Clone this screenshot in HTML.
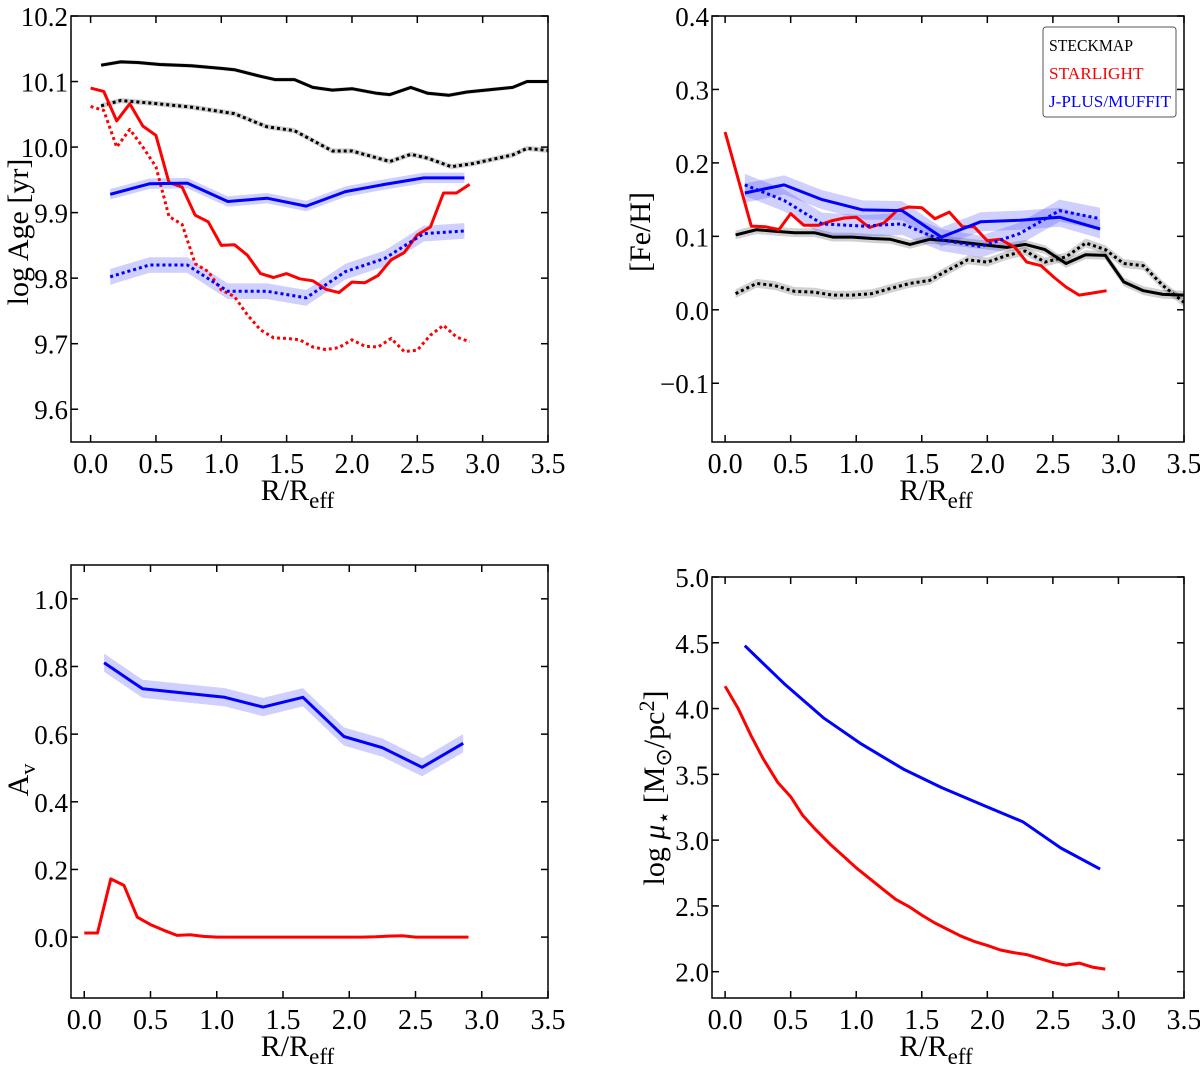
<!DOCTYPE html>
<html><head><meta charset="utf-8"><style>
html,body{margin:0;padding:0;background:#fff;}
svg, svg text{font-family:"Liberation Serif","Times New Roman",serif;}
</style></head><body>
<svg id="fig" width="1200" height="1068" viewBox="0 0 1200 1068" xmlns="http://www.w3.org/2000/svg" font-family="Liberation Serif, serif"></svg>
<script>
// ---- Panel A: log Age ----
const ageBlackX = [0.08,0.23,0.36,0.53,0.77,1.0,1.1,1.3,1.41,1.56,1.7,1.85,2.0,2.19,2.29,2.45,2.58,2.74,2.88,3.08,3.23,3.34,3.5];
const ageBlackSolid = [10.125,10.130,10.129,10.126,10.124,10.12,10.118,10.108,10.103,10.103,10.091,10.087,10.089,10.082,10.080,10.091,10.082,10.079,10.084,10.088,10.091,10.1,10.1];
const ageBlackDotX = [0.08,0.23,0.47,0.77,1.1,1.35,1.56,1.85,2.0,2.29,2.45,2.58,2.76,2.93,3.23,3.34,3.5];
const ageBlackDotted = [10.063,10.071,10.067,10.061,10.051,10.031,10.025,9.994,9.994,9.978,9.989,9.983,9.970,9.975,9.988,9.998,9.995];
const ageRedX = [0,0.1,0.2,0.3,0.4,0.5,0.6,0.7,0.8,0.9,1.0,1.1,1.2,1.3,1.4,1.5,1.6,1.7,1.8,1.9,2.0,2.1,2.2,2.3,2.4,2.5,2.6,2.7,2.8,2.9];
const ageRedSolid = [10.09,10.085,10.04,10.066,10.032,10.018,9.946,9.939,9.896,9.886,9.85,9.851,9.835,9.807,9.801,9.807,9.799,9.796,9.783,9.778,9.794,9.793,9.804,9.828,9.839,9.866,9.878,9.930,9.930,9.943];
const ageRedDotted = [10.062,10.056,10.0,10.027,10.0,9.97,9.894,9.882,9.822,9.81,9.782,9.772,9.744,9.721,9.709,9.708,9.706,9.695,9.691,9.694,9.706,9.696,9.695,9.708,9.688,9.69,9.713,9.728,9.71,9.703];
const blueX = [0.15,0.45,0.74,1.05,1.35,1.65,1.95,2.25,2.55,2.86];
const ageBlueSolid = [9.928,9.944,9.945,9.917,9.922,9.91,9.932,9.943,9.953,9.953];
const ageBlueDotted = [9.802,9.820,9.820,9.78,9.78,9.77,9.81,9.83,9.868,9.872];
// ---- Panel B: [Fe/H] ----
const fehBlackX = [0.08,0.24,0.38,0.53,0.68,0.82,0.97,1.12,1.26,1.41,1.56,1.7,1.85,2.0,2.15,2.29,2.44,2.6,2.75,2.9,3.04,3.19,3.34,3.5];
const fehBlackSolid = [0.102,0.109,0.107,0.105,0.105,0.099,0.099,0.097,0.096,0.089,0.096,0.094,0.091,0.088,0.085,0.089,0.082,0.063,0.075,0.074,0.038,0.026,0.021,0.02];
const fehBlackDotted = [0.022,0.036,0.033,0.025,0.024,0.02,0.02,0.022,0.029,0.036,0.04,0.054,0.068,0.065,0.074,0.08,0.065,0.072,0.091,0.082,0.063,0.06,0.033,0.01];
const fehRedX = [0,0.2,0.31,0.41,0.5,0.6,0.71,0.81,0.91,1.0,1.1,1.21,1.31,1.4,1.5,1.6,1.71,1.81,1.9,2.0,2.1,2.21,2.3,2.41,2.51,2.6,2.7,2.81,2.91];
const fehRedSolid = [0.242,0.114,0.113,0.109,0.131,0.115,0.115,0.121,0.125,0.126,0.112,0.118,0.135,0.14,0.139,0.124,0.133,0.113,0.113,0.094,0.096,0.085,0.065,0.06,0.044,0.031,0.02,0.023,0.026];
const fehBlueSolid = [0.159,0.17,0.15,0.136,0.135,0.099,0.12,0.122,0.126,0.11];
const fehBlueDotted = [0.17,0.149,0.117,0.114,0.117,0.095,0.086,0.104,0.135,0.124];
// ---- Panel C: Av ----
const avBlueX = [0.15,0.44,1.06,1.35,1.65,1.96,2.25,2.55,2.86];
const avBlue = [0.811,0.734,0.709,0.680,0.709,0.593,0.56,0.502,0.573];
const avRedX = [0,0.1,0.2,0.3,0.4,0.5,0.6,0.7,0.8,0.9,1.0,1.1,1.2,1.4,1.6,1.8,2.0,2.1,2.2,2.3,2.4,2.5,2.6,2.7,2.8,2.9];
const avRed = [0.012,0.012,0.172,0.153,0.059,0.037,0.02,0.005,0.007,0.002,0.0,0.0,0.0,0.0,0.0,0.0,0.0,0.0,0.001,0.003,0.004,0.0,0.0,0.0,0.0,0.0];
// ---- Panel D: log mu ----
const muBlueX = [0.15,0.45,0.75,1.04,1.36,1.65,1.98,2.27,2.56,2.86];
const muBlue = [4.478,4.19,3.93,3.73,3.54,3.40,3.26,3.14,2.94,2.78];
const muRedX = [0,0.1,0.2,0.29,0.4,0.5,0.59,0.69,0.8,0.9,1.0,1.1,1.2,1.3,1.41,1.5,1.6,1.7,1.8,1.9,2.0,2.1,2.2,2.3,2.4,2.5,2.6,2.7,2.8,2.9];
const muRed = [4.17,4.0,3.79,3.62,3.44,3.33,3.19,3.08,2.97,2.88,2.79,2.71,2.63,2.55,2.49,2.43,2.37,2.32,2.27,2.23,2.2,2.165,2.145,2.13,2.1,2.07,2.05,2.065,2.035,2.02];
// tick labels
const xTicks = ["0.0","0.5","1.0","1.5","2.0","2.5","3.0","3.5"];
const ageTicks = ["9.6","9.7","9.8","9.9","10.0","10.1","10.2"];
const fehTicks = ["\u22120.1","0.0","0.1","0.2","0.3","0.4"];
const avTicks = ["0.0","0.2","0.4","0.6","0.8","1.0"];
const muTicks = ["2.0","2.5","3.0","3.5","4.0","4.5","5.0"];

const NS="http://www.w3.org/2000/svg";
const svg=document.getElementById('fig');
const FF='Liberation Serif, serif';
function mk(tag,attrs,parent){const e=document.createElementNS(NS,tag);for(const k in attrs)e.setAttribute(k,attrs[k]);if(tag==='text')e.setAttribute('font-family',FF);(parent||svg).appendChild(e);return e;}

function panel(name,box,xlim,ylim,ytickLabels){
  const g=mk('g',{});
  
  
  const sx=v=>box.x0+(v-xlim[0])/(xlim[1]-xlim[0])*(box.x1-box.x0);
  const sy=v=>box.y1-(v-ylim[0])/(ylim[1]-ylim[0])*(box.y1-box.y0);
  const clipId='clip-'+name;
  const cp=mk('clipPath',{id:clipId},g);mk('rect',{x:box.x0,y:box.y0,width:box.x1-box.x0,height:box.y1-box.y0},cp);
  const plot=mk('g',{'clip-path':'url(#'+clipId+')'},g);
  return {g,sx,sy,plot,box,ytickLabels,xlim,ylim};
}
function axes(p){
  const {g,sx,sy,box}=p;
  xTicks.forEach(t=>{const x=sx(parseFloat(t));
    mk('line',{x1:x,x2:x,y1:box.y1,y2:box.y1-7,stroke:'#000','stroke-width':1.5},g);
    mk('line',{x1:x,x2:x,y1:box.y0,y2:box.y0+7,stroke:'#000','stroke-width':1.5},g);
    const tx=mk('text',{x:x,y:box.y1+31,'font-size':28,'text-anchor':'middle'},g);tx.textContent=t;
    
    
  });
  p.ytickLabels.forEach(t=>{const y=sy(parseFloat(t.replace('\u2212','-')));
    mk('line',{x1:box.x0,x2:box.x0+7,y1:y,y2:y,stroke:'#000','stroke-width':1.5},g);
    mk('line',{x1:box.x1,x2:box.x1-7,y1:y,y2:y,stroke:'#000','stroke-width':1.5},g);
    const tx=mk('text',{x:box.x0-3,y:y+10,'font-size':27,'text-anchor':'end'},g);tx.textContent=t;
    
    
  });
  const r=mk('rect',{x:box.x0,y:box.y0,width:box.x1-box.x0,height:box.y1-box.y0,fill:'none',stroke:'#000','stroke-width':1.5},g);
  
  
  const xl=mk('text',{x:(box.x0+box.x1)/2-12,y:box.y1+58,'font-size':30,'text-anchor':'middle'},g);
  
  
  xl.innerHTML='R/R<tspan font-size="23" dy="8">eff</tspan>';
}
function line(p,xs,ys,color,dotted,name){
  const d=xs.map((x,i)=>(i?'L':'M')+p.sx(x).toFixed(1)+','+p.sy(ys[i]).toFixed(1)).join('');
  const a={d,fill:'none',stroke:color,'stroke-width':3,'stroke-linejoin':'round'};
  if(dotted){a['stroke-dasharray']='3,3';}
  const e=mk('path',a,p.plot);
  
  
}
function band(p,xs,ys,w,color,name){
  const up=xs.map((x,i)=>p.sx(x).toFixed(1)+','+p.sy(ys[i]+w).toFixed(1));
  const dn=xs.map((x,i)=>p.sx(x).toFixed(1)+','+p.sy(ys[i]-w).toFixed(1)).reverse();
  const e=mk('polygon',{points:up.concat(dn).join(' '),fill:color,stroke:'none'},p.plot);
  
  
}
const BLUEB='rgba(40,40,255,0.22)', GRAYB='rgba(0,0,0,0.18)';

const A=panel('age-panel',{x0:71,x1:548,y0:16,y1:442},[-0.15,3.5],[9.55,10.2],ageTicks);
band(A,ageBlackX,ageBlackSolid,0.003,GRAYB,'age-steckmap-band');
band(A,ageBlackDotX,ageBlackDotted,0.004,GRAYB,'age-steckmap-dotted-band');
band(A,blueX,ageBlueSolid,0.008,BLUEB,'age-muffit-band');
band(A,blueX,ageBlueDotted,0.012,BLUEB,'age-muffit-dotted-band');
line(A,ageBlackX,ageBlackSolid,'#000',false,'age-steckmap-line');
line(A,ageBlackDotX,ageBlackDotted,'#000',true,'age-steckmap-dotted-line');
line(A,ageRedX,ageRedSolid,'#f00',false,'age-starlight-line');
line(A,ageRedX,ageRedDotted,'#f00',true,'age-starlight-dotted-line');
line(A,blueX,ageBlueSolid,'#00f',false,'age-muffit-line');
line(A,blueX,ageBlueDotted,'#00f',true,'age-muffit-dotted-line');
axes(A);
const B=panel('feh-panel',{x0:712,x1:1184,y0:16,y1:442},[-0.1,3.5],[-0.18,0.4],fehTicks);
band(B,fehBlackX,fehBlackSolid,0.006,GRAYB,'feh-steckmap-band');
band(B,fehBlackX,fehBlackDotted,0.006,GRAYB,'feh-steckmap-dotted-band');
band(B,blueX,fehBlueSolid,0.013,BLUEB,'feh-muffit-band');
band(B,blueX,fehBlueDotted,0.015,BLUEB,'feh-muffit-dotted-band');
line(B,fehBlackX,fehBlackSolid,'#000',false,'feh-steckmap-line');
line(B,fehBlackX,fehBlackDotted,'#000',true,'feh-steckmap-dotted-line');
line(B,fehRedX,fehRedSolid,'#f00',false,'feh-starlight-line');
line(B,blueX,fehBlueSolid,'#00f',false,'feh-muffit-line');
line(B,blueX,fehBlueDotted,'#00f',true,'feh-muffit-dotted-line');
axes(B);
const C=panel('av-panel',{x0:71,x1:548,y0:565,y1:998},[-0.1,3.5],[-0.18,1.1],avTicks);
band(C,avBlueX,avBlue,0.027,BLUEB,'av-muffit-band');
line(C,avBlueX,avBlue,'#00f',false,'av-muffit-line');
line(C,avRedX,avRed,'#f00',false,'av-starlight-line');
axes(C);
const D=panel('mu-panel',{x0:712,x1:1184,y0:577,y1:998},[-0.1,3.5],[1.8,5.0],muTicks);
line(D,muBlueX,muBlue,'#00f',false,'mu-muffit-line');
line(D,muRedX,muRed,'#f00',false,'mu-starlight-line');
axes(D);

function ytitle(x,y,html,name){const t=mk('text',{x:0,y:0,'font-size':30,'text-anchor':'middle',transform:`translate(${x},${y}) rotate(-90)`});
  t.innerHTML=html;
  
  }
ytitle(28,232,'log Age [yr]','age-y-axis-title');
ytitle(650,232,'[Fe/H]','feh-y-axis-title');
ytitle(28,780,'A<tspan font-size="22" dy="7">v</tspan>','av-y-axis-title');
ytitle(664,788,'log <tspan font-style="italic">μ</tspan><tspan font-size="22" dy="7">⋆</tspan><tspan dy="-7"> [M</tspan><tspan font-size="22" dy="7">⊙</tspan><tspan dy="-7">/pc</tspan><tspan font-size="22" dy="-10">2</tspan><tspan dy="10">]</tspan>','mu-y-axis-title');

const lg=mk('g',{});


mk('rect',{x:1043,y:27,width:133,height:90,rx:3,fill:'#fff',stroke:'#555','stroke-width':1},lg);
[['STECKMAP','#000',51],['STARLIGHT','#f00',79],['J-PLUS/MUFFIT','#00f',107]].forEach(([t,c,y])=>{
  const e=mk('text',{x:1049,y:y,'font-size':17,fill:c,textLength:(t.length>10?122:t.length*10.5),lengthAdjust:'spacingAndGlyphs'},lg);e.textContent=t;
  
  
});
</script>
</body></html>
